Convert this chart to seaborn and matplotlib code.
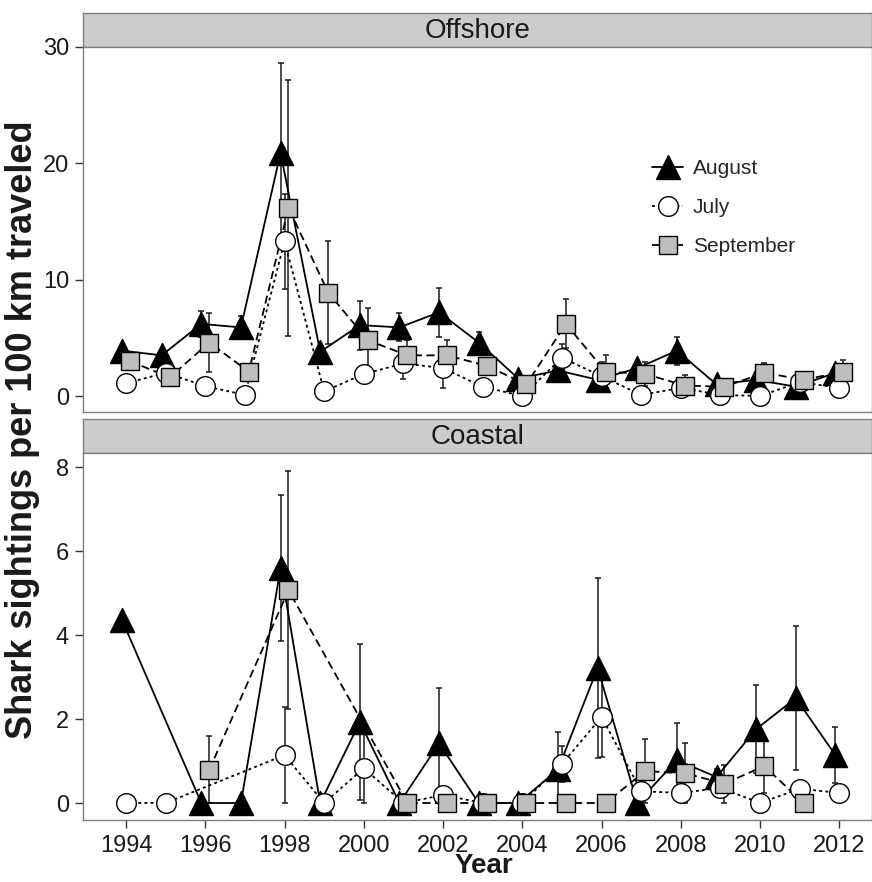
import numpy as np
import pandas as pd
import matplotlib
matplotlib.use("Agg")
import matplotlib.pyplot as plt
import seaborn as sns
from matplotlib.lines import Line2D

nan = np.nan

# ---------------- data ----------------
years = list(range(1994, 2013))
months = ["August", "July", "September"]
regions = ["Offshore", "Coastal"]
xtick_years = list(range(1994, 2013, 2))

offshore_august = [3.9, 3.5, 6.2, 5.9, 20.9, 3.8, 6.1, 5.9, 7.2, 4.6, 1.5, 2.2, 1.4, 2.4, 3.9, 1.0, 1.4, 0.8, 2.0]
offshore_july = [1.1, 2.0, 0.85, 0.1, 13.3, 0.4, 1.9, 2.8, 2.4, 0.8, 0.0, 3.3, 1.7, 0.1, 0.7, 0.1, 0.0, 1.2, 0.7]
offshore_september = [3.0, 1.6, 4.6, 2.1, 16.2, 8.9, 4.8, 3.5, 3.5, 2.6, 1.0, 6.2, 2.1, 1.9, 0.9, 0.8, 2.0, 1.4, 2.1]

offshore_august_se = [0.4, 0.3, 1.1, 1.0, 7.7, 0.5, 2.1, 1.2, 2.1, 0.9, 0.4, 1.0, 0.8, 0.5, 1.2, 0.3, 0.3, 0.3, 0.5]
offshore_july_se = [0.3, 0.5, 0.5, 0.1, 4.1, 0.3, 0.6, 1.3, 1.7, 0.3, 0.0, 1.2, 1.2, 0.1, 0.4, 0.2, 0.0, 0.4, 0.3]
offshore_september_se = [0.5, 0.5, 2.5, 0.5, 11.0, 4.4, 2.8, 1.3, 1.3, 0.5, 0.3, 2.1, 1.4, 1.0, 0.9, 0.3, 0.8, 0.3, 1.0]

coastal_august = [4.36, nan, 0.0, 0.0, 5.6, 0.0, 1.93, 0.0, 1.42, 0.0, 0.0, 0.8, 3.22, 0.0, 1.02, 0.62, 1.76, 2.5, 1.14]
coastal_july = [0.0, 0.0, nan, nan, 1.14, 0.0, 0.83, 0.0, 0.19, 0.0, 0.0, 0.93, 2.05, 0.28, 0.24, 0.36, 0.0, 0.34, 0.24]
coastal_september = [nan, nan, 0.79, nan, 5.07, nan, nan, 0.0, 0.0, 0.0, 0.0, 0.0, 0.0, 0.76, 0.71, 0.46, 0.88, 0.0, nan]

coastal_august_se = [nan, nan, 0.0, 0.0, 1.75, 0.0, 1.87, 0.0, 1.32, 0.0, 0.0, 0.9, 2.15, 0.0, 0.88, 0.2, 1.04, 1.72, 0.67]
coastal_july_se = [0.0, 0.0, nan, nan, 1.15, 0.0, 0.85, 0.0, 0.1, 0.0, 0.0, 0.43, 0.95, 0.1, 0.1, 0.15, 0.0, 0.1, 0.05]
coastal_september_se = [nan, nan, 0.8, nan, 2.83, nan, nan, 0.0, 0.0, 0.0, 0.0, 0.0, 0.0, 0.76, 0.72, 0.45, 0.65, 0.0, nan]

values = {
    ("Offshore", "August"): (offshore_august, offshore_august_se),
    ("Offshore", "July"): (offshore_july, offshore_july_se),
    ("Offshore", "September"): (offshore_september, offshore_september_se),
    ("Coastal", "August"): (coastal_august, coastal_august_se),
    ("Coastal", "July"): (coastal_july, coastal_july_se),
    ("Coastal", "September"): (coastal_september, coastal_september_se),
}

rows = []
for (reg, mon), (vals, ses) in values.items():
    for y, v, s in zip(years, vals, ses):
        rows.append(dict(region=reg, month=mon, year=y, value=v, se=s))
df = pd.DataFrame(rows)

# ---------------- style ----------------
sns.set_style("white")
plt.rcParams["font.family"] = ["Liberation Sans", "DejaVu Sans"]

dodge = {"August": -0.1, "July": 0.0, "September": 0.1}
df["xd"] = df["year"] + df["month"].map(dodge)

line_style = {"August": "-", "July": (0, (1.6, 1.8)), "September": (0, (4.5, 2.5))}
marker = {"August": "^", "July": "o", "September": "s"}
face = {"August": "black", "July": "white", "September": "#BEBEBE"}
msize = {"August": 300, "July": 200, "September": 150}

W, H = 872, 882
fig = plt.figure(figsize=(W / 100, H / 100), dpi=100)

def fx(px):
    return px / W

def fy(py):
    return 1 - py / H

left, right = 83, 871.5
panels = {
    "Offshore": dict(strip=(13, 47), ax=(47, 412), ylim=(-1.37, 30.0), yticks=[0, 10, 20, 30]),
    "Coastal": dict(strip=(419, 453), ax=(453, 820), ylim=(-0.405, 8.34), yticks=[0, 2, 4, 6, 8]),
}

border = "#7F7F7F"
text_col = "#1A1A1A"

axes = {}
for reg in regions:
    p = panels[reg]
    st, sb = p["strip"]
    at, ab = p["ax"]
    sax = fig.add_axes([fx(left), fy(sb), fx(right - left), (sb - st) / H])
    sax.set_facecolor("#CCCCCC")
    sax.set_xticks([])
    sax.set_yticks([])
    for s in sax.spines.values():
        s.set_color(border)
        s.set_linewidth(1.0)
    sax.text(0.5, 0.47, reg, ha="center", va="center", fontsize=20, color=text_col,
             transform=sax.transAxes)

    ax = fig.add_axes([fx(left), fy(ab), fx(right - left), (ab - at) / H])
    axes[reg] = ax
    sub_r = df[df["region"] == reg]

    # error bars
    for mon in months:
        sub = sub_r[(sub_r["month"] == mon)].dropna(subset=["value", "se"])
        lo = np.minimum(sub["se"].values, sub["value"].values)
        hi = sub["se"].values
        ax.errorbar(sub["xd"], sub["value"], yerr=[lo, hi], fmt="none", ecolor="#1A1A1A",
                    elinewidth=1.1, capsize=2.5, capthick=1.1, zorder=1)
    # lines
    for mon in months:
        sub = sub_r[(sub_r["month"] == mon)].dropna(subset=["value"])
        sns.lineplot(data=sub, x="xd", y="value", ax=ax, color="black", linewidth=1.3,
                     linestyle=line_style[mon], estimator=None, sort=True, zorder=2, legend=False)
    # points
    for mon in months:
        sub = sub_r[(sub_r["month"] == mon)].dropna(subset=["value"])
        sns.scatterplot(data=sub, x="xd", y="value", ax=ax, marker=marker[mon], s=msize[mon],
                        color=face[mon], edgecolor="black", linewidth=1.0, zorder=3, legend=False)

    ax.set_xlim(1992.915, 2012.81)
    ax.set_ylim(*p["ylim"])
    ax.set_yticks(p["yticks"])
    ax.set_xlabel("")
    ax.set_ylabel("")
    for s in ax.spines.values():
        s.set_color(border)
        s.set_linewidth(1.0)
    ax.tick_params(axis="y", which="both", left=True, length=6, width=1.0, color="#333333",
                   labelsize=17, labelcolor=text_col, pad=4)
    if reg == "Coastal":
        ax.set_xticks(xtick_years)
        ax.tick_params(axis="x", which="both", bottom=True, length=6, width=1.0, color="#333333",
                       labelsize=17, labelcolor=text_col, pad=5)
    else:
        ax.set_xticks(xtick_years)
        ax.tick_params(axis="x", bottom=False, labelbottom=False)

# legend
handles = [
    Line2D([], [], color="black", linestyle=line_style[m], linewidth=1.3, marker=marker[m],
           markersize=np.sqrt(msize[m]), markerfacecolor=face[m], markeredgecolor="black",
           markeredgewidth=1.0)
    for m in months
]
axes["Offshore"].legend(handles, months, loc="upper left", bbox_to_anchor=(0.711, 0.715),
                        frameon=False, fontsize=15, handlelength=1.5, handletextpad=0.45,
                        labelspacing=0.95, borderaxespad=0)

fig.text(fx(23), fy(430), "Shark sightings per 100 km traveled", rotation=90, ha="center",
         va="center", fontsize=26, fontweight="bold", color=text_col)
fig.text(fx(484), fy(866), "Year", ha="center", va="center", fontsize=20, fontweight="bold",
         color=text_col)

fig.savefig("out.png", dpi=100, facecolor="white")
